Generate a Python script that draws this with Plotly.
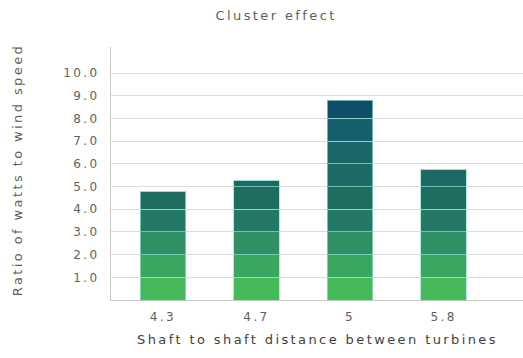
import plotly.graph_objects as go

# Cluster effect: ratio of watts to wind speed by turbine spacing
categories = ["4.3", "4.7", "5", "5.8"]
ratios = [4.8, 5.25, 8.8, 5.75]
y_ticks = [1, 2, 3, 4, 5, 6, 7, 8, 9, 10]
y_tick_labels = ["1.0", "2.0", "3.0", "4.0", "5.0", "6.0", "7.0", "8.0", "9.0", "10.0"]

# one colour per unit band, from the base of the bars upward
band_colors = ["#46b95a", "#3aa65e", "#2f9063", "#247964", "#1f6d61",
               "#1c6a64", "#1a6768", "#165e6c", "#0f4e68"]

text_color = "#5f5f5f"
font_family = "DejaVu Sans, Verdana, sans-serif"

fig = go.Figure()
for k, color in enumerate(band_colors):
    heights = [max(0.0, min(1.0, v - k)) for v in ratios]
    fig.add_trace(go.Bar(
        x=categories,
        y=heights,
        width=0.49,
        marker=dict(color=color, line=dict(color="rgba(150,225,210,0.7)", width=1)),
        showlegend=False,
        hoverinfo="skip",
    ))

fig.update_layout(
    width=523,
    height=358,
    barmode="stack",
    margin=dict(l=111, r=0, t=47, b=58),
    paper_bgcolor="white",
    plot_bgcolor="white",
    font=dict(family=font_family, color=text_color, size=12),
    title=dict(text="Cluster effect", x=0.528, xanchor="center", y=0.958, yanchor="middle",
               font=dict(size=13, color=text_color)),
    xaxis=dict(
        type="category",
        range=[-0.556, 3.85],
        showgrid=False,
        showline=True,
        linecolor="#c8c8c8",
        linewidth=1,
        ticks="",
        tickfont=dict(size=12, color=text_color),
        ticklabelstandoff=6,
    ),
    yaxis=dict(
        range=[0, 11.15],
        tickvals=y_ticks,
        ticktext=y_tick_labels,
        showgrid=True,
        gridcolor="#dcdcdc",
        gridwidth=1,
        showline=True,
        linecolor="#c8c8c8",
        linewidth=1,
        zeroline=False,
        ticks="",
        tickfont=dict(size=12, color=text_color),
        ticklabelstandoff=8,
    ),
    annotations=[
        dict(text="Shaft to shaft distance between turbines", xref="paper", yref="paper",
             x=0.5, y=-0.158, xanchor="center", yanchor="middle", showarrow=False,
             font=dict(size=13, color="#3f3f3f")),
        dict(text="Ratio of watts to wind speed", xref="paper", yref="paper",
             x=-0.226, y=0.515, xanchor="center", yanchor="middle", showarrow=False,
             textangle=-90, font=dict(size=13, color=text_color)),
    ],
)

spacing_js = """
document.querySelectorAll('.main-svg text').forEach(function (t) {
  t.style.letterSpacing = '2.4px';
});
"""

fig.write_html("out.html", post_script=spacing_js)
